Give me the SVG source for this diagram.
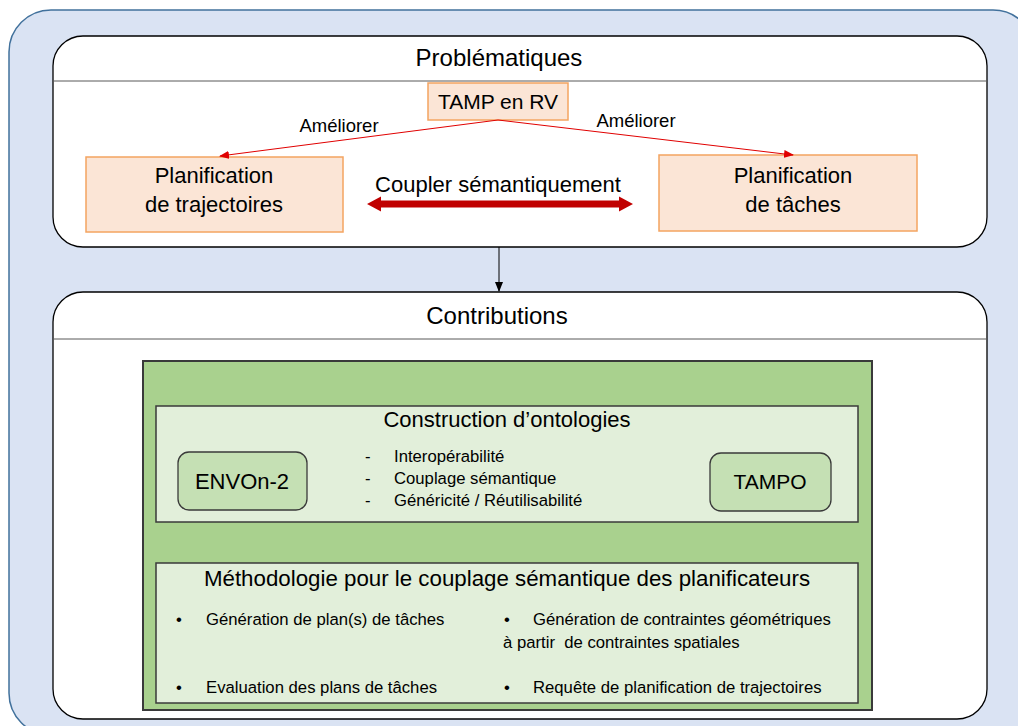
<svg xmlns="http://www.w3.org/2000/svg" width="1018" height="726" viewBox="0 0 1018 726">
<defs>
<style>
text{font-family:"Liberation Sans","DejaVu Sans",sans-serif;fill:#000}
.panel{fill:#fff;stroke:#000;stroke-width:1.3}
.hline{stroke:#595959;stroke-width:1}
.orange{fill:#fbe5d6;stroke:#f4a460;stroke-width:1.5}
.green{fill:#a9d18e;stroke:#3a3a3a;stroke-width:2}
.lgreen{fill:#e2efda;stroke:#3a3a3a;stroke-width:1.5}
.mgreen{fill:#c5e0b4;stroke:#3a3a3a;stroke-width:1.3}
.t22{font-size:24px}
.t20{font-size:22px}
.t21{font-size:21px}
.t15{font-size:16.7px}
.t16{font-size:18.5px}
</style>
<marker id="redHead" markerWidth="10" markerHeight="8" refX="9" refY="4" orient="auto" markerUnits="userSpaceOnUse">
<path d="M0,0 L10,4 L0,8 Z" fill="#e00000"/>
</marker>
<marker id="blackHead" markerWidth="10" markerHeight="8" refX="9" refY="4" orient="auto" markerUnits="userSpaceOnUse">
<path d="M0,0 L10,4 L0,8 Z" fill="#000"/>
</marker>
</defs>
<rect x="9" y="10" width="1026" height="725" rx="42" fill="#dae3f3" stroke="#41719c" stroke-width="1.5"/>

<g id="problematiques">
<path class="panel" d="M83,36 H957 A30,30 0 0 1 987,66 V217 A30,30 0 0 1 957,247 H83 A30,30 0 0 1 53,217 V66 A30,30 0 0 1 83,36 Z"/>
<line class="hline" x1="53" y1="81" x2="987" y2="81"/>
<text class="t22" x="499" y="66" text-anchor="middle">Problématiques</text>
</g>

<g id="tamp">
<rect class="orange" x="428" y="83" width="140" height="37"/>
<text class="t21" x="498" y="109" text-anchor="middle">TAMP en RV</text>
</g>

<g id="plan-traj">
<rect class="orange" x="86" y="157" width="257" height="75"/>
<text class="t20" x="214" y="183" text-anchor="middle">Planification</text>
<text class="t20" x="214" y="212" text-anchor="middle">de trajectoires</text>
</g>

<g id="plan-taches">
<rect class="orange" x="659" y="155" width="258" height="76"/>
<text class="t20" x="793" y="183" text-anchor="middle">Planification</text>
<text class="t20" x="793" y="212" text-anchor="middle">de tâches</text>
</g>

<g id="contributions">
<path class="panel" d="M83,292 H957 A30,30 0 0 1 987,322 V689 A30,30 0 0 1 957,719 H83 A30,30 0 0 1 53,689 V322 A30,30 0 0 1 83,292 Z"/>
<line class="hline" x1="53" y1="339" x2="987" y2="339"/>
<text class="t22" x="497" y="324" text-anchor="middle">Contributions</text>
</g>

<g id="green-box">
<rect class="green" x="143" y="361" width="729" height="349"/>
</g>

<g id="construction">
<rect class="lgreen" x="156" y="406" width="702" height="116"/>
<text class="t20" x="507" y="427" text-anchor="middle">Construction d’ontologies</text>
<text class="t15" x="365" y="462">-</text>
<text class="t15" x="394" y="462">Interopérabilité</text>
<text class="t15" x="365" y="484">-</text>
<text class="t15" x="394" y="484">Couplage sémantique</text>
<text class="t15" x="365" y="506">-</text>
<text class="t15" x="394" y="506">Généricité / Réutilisabilité</text>
</g>

<g id="envon">
<rect class="mgreen" x="178" y="452" width="129" height="58" rx="11"/>
<text class="t20" x="242" y="489" text-anchor="middle">ENVOn-2</text>
</g>

<g id="tampo">
<rect class="mgreen" x="710" y="453" width="121" height="58" rx="11"/>
<text class="t21" x="770" y="489" text-anchor="middle">TAMPO</text>
</g>

<g id="methodologie">
<rect class="lgreen" x="156" y="563" width="702" height="140"/>
<text x="507" y="586" text-anchor="middle" style="font-size:22.3px">Méthodologie pour le couplage sémantique des planificateurs</text>
<text class="t15" x="176" y="625">•</text>
<text class="t15" x="206" y="625">Génération de plan(s) de tâches</text>
<text class="t15" x="176" y="693">•</text>
<text class="t15" x="206" y="693">Evaluation des plans de tâches</text>
<text class="t15" x="504" y="625">•</text>
<text class="t15" x="533" y="625">Génération de contraintes géométriques</text>
<text class="t15" x="503" y="648" xml:space="preserve">à partir  de contraintes spatiales</text>
<text class="t15" x="504" y="693">•</text>
<text class="t15" x="533" y="693">Requête de planification de trajectoires</text>
</g>

<g id="connectors">
<line x1="498" y1="120" x2="220" y2="156" stroke="#e00000" stroke-width="1" marker-end="url(#redHead)"/>
<line x1="498" y1="120" x2="793" y2="155" stroke="#e00000" stroke-width="1" marker-end="url(#redHead)"/>
<text class="t16" x="339" y="132" text-anchor="middle">Améliorer</text>
<text class="t16" x="636" y="127" text-anchor="middle">Améliorer</text>
<text class="t20" x="498" y="192" text-anchor="middle">Coupler sémantiquement</text>
<path d="M367,204 L381,196.5 L381,200.5 L619,200.5 L619,196.5 L633,204 L619,211.5 L619,207.5 L381,207.5 L381,211.5 Z" fill="#c00000"/>
<line x1="499" y1="247" x2="499" y2="291" stroke="#000" stroke-width="1" marker-end="url(#blackHead)"/>
</g>
</svg>
